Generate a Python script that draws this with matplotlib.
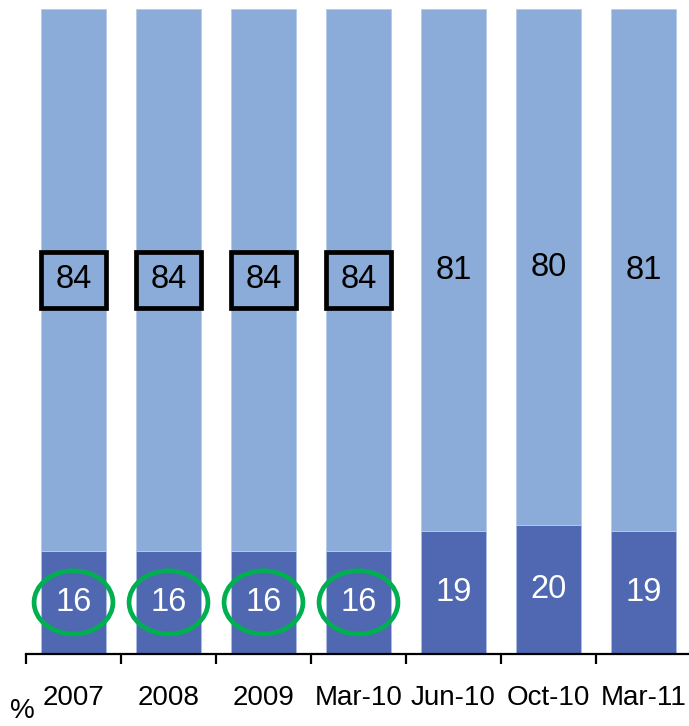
import matplotlib.pyplot as plt
from matplotlib.patches import Rectangle, Ellipse

plt.rcParams['font.family'] = ['Liberation Sans', 'DejaVu Sans']

periods = ['2007', '2008', '2009', 'Mar-10', 'Jun-10', 'Oct-10', 'Mar-11']
lower = [16, 16, 16, 16, 19, 20, 19]
upper = [84, 84, 84, 84, 81, 80, 81]
highlighted = [0, 1, 2, 3]

dark = '#5068b2'
light = '#8bacd8'
green = '#00b050'

fig = plt.figure(figsize=(6.89, 7.26), dpi=100)
ax = fig.add_axes([26 / 689, 72 / 726, 665 / 689, 645 / 726])

x = list(range(len(periods)))
w = 0.674
ax.bar(x, lower, width=w, color=dark, edgecolor='#a9bde4', linewidth=0.6)
ax.bar(x, upper, width=w, bottom=lower, color=light, edgecolor='#b5cbe9', linewidth=0.6)

for i in x:
    y_low = lower[i] / 2
    y_up = lower[i] + upper[i] / 2
    ax.text(i, y_low, str(lower[i]), ha='center', va='center', fontsize=23.5, color='white')
    ax.text(i, y_up, str(upper[i]), ha='center', va='center', fontsize=23.5, color='black')
    if i in highlighted:
        ax.add_patch(Rectangle((i - 0.34, y_up - 4.35), 0.68, 8.7, fill=False,
                               edgecolor='black', linewidth=3.4, zorder=5))
        ax.add_patch(Ellipse((i, y_low), 0.83, 9.8, fill=False,
                             edgecolor=green, linewidth=3.4, zorder=5))

ax.set_xlim(-0.5, len(periods) - 0.5)
ax.set_ylim(0, 100)

for side in ['top', 'right', 'left']:
    ax.spines[side].set_visible(False)
ax.spines['bottom'].set_linewidth(1.6)
ax.set_yticks([])

ax.set_xticks(x)
ax.set_xticklabels(periods, fontsize=20)
ax.tick_params(axis='x', which='major', length=0, pad=22)
ax.set_xticks([i - 0.5 for i in range(len(periods) + 1)], minor=True)
ax.tick_params(axis='x', which='minor', length=7, width=1.6, direction='out')

fig.text(22 / 689, 8 / 726, '%', ha='center', va='baseline', fontsize=20)

fig.savefig('out.png', dpi=100)
